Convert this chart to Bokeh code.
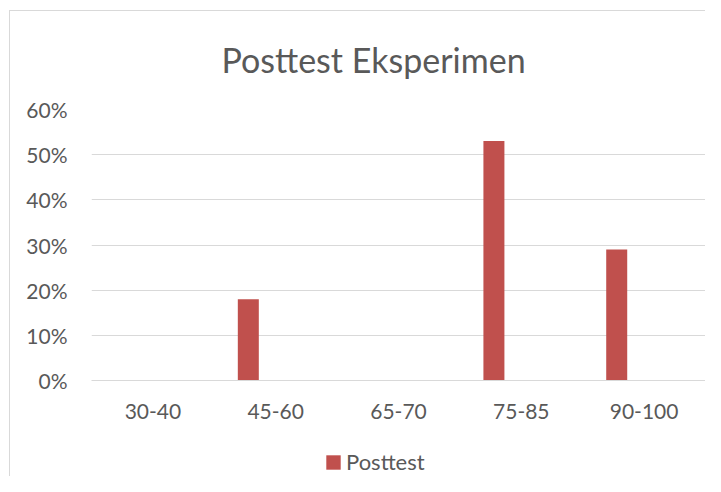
from bokeh.plotting import figure
from bokeh.layouts import column
from bokeh.models import (FactorRange, Range1d, FixedTicker, NumeralTickFormatter,
                          Legend, LegendItem, ColumnDataSource)
from bokeh.transform import dodge
from bokeh.embed import file_html
from bokeh.resources import INLINE

categories = ["30-40", "45-60", "65-70", "75-85", "90-100"]
posttest = [0.0, 0.18, 0.0, 0.53, 0.29]
y_ticks = [0.0, 0.1, 0.2, 0.3, 0.4, 0.5, 0.6]
title_text = "Posttest Eksperimen"
series_name = "Posttest"

FONT = "Lato"
TXT = "#595959"
GRID = "#d9d9d9"
BAR = "#c0504d"

src = ColumnDataSource(dict(cat=categories, val=posttest))

p = figure(width=705, height=445, x_range=FactorRange(*categories),
           y_range=Range1d(0, 0.6), output_backend="svg", toolbar_location=None,
           min_border_left=91, min_border_right=0, min_border_top=109,
           min_border_bottom=65)
p.border_fill_color = None
p.background_fill_color = "white"
p.outline_line_color = None

r = p.vbar(x=dodge("cat", -0.223, range=p.x_range), top="val", width=0.171,
           source=src, fill_color=BAR, line_color=None)

p.title.text = title_text
p.title.text_font = FONT
p.title.text_font_size = "34px"
p.title.text_font_style = "normal"
p.title.text_color = TXT
p.title.align = "left"
p.title.offset = 130
p.title.standoff = 60

p.yaxis.ticker = FixedTicker(ticks=y_ticks)
p.yaxis.formatter = NumeralTickFormatter(format="0%")
p.yaxis.axis_line_color = None
p.yaxis.major_tick_line_color = None
p.yaxis.minor_tick_line_color = None
p.yaxis.major_tick_out = 0
p.yaxis.major_label_standoff = 24
p.yaxis.major_label_text_font = FONT
p.yaxis.major_label_text_font_size = "21px"
p.yaxis.major_label_text_color = TXT

p.xaxis.axis_line_color = GRID
p.xaxis.axis_line_width = 1
p.xaxis.major_tick_line_color = None
p.xaxis.major_tick_out = 0
p.xaxis.major_label_standoff = 23
p.xaxis.major_label_text_font = FONT
p.xaxis.major_label_text_font_size = "21px"
p.xaxis.major_label_text_color = TXT

p.xgrid.grid_line_color = None
p.ygrid.grid_line_color = GRID
p.ygrid.grid_line_width = 1
p.ygrid.ticker = FixedTicker(ticks=y_ticks)

# legend strip under the chart (key renderer hidden, only its legend swatch shows)
lg = figure(width=705, height=31, x_range=p.x_range, y_range=Range1d(0, 1),
            output_backend="svg", toolbar_location=None, x_axis_type=None,
            y_axis_type=None, min_border=0)
lg.grid.visible = False
lg.outline_line_color = None
lg.border_fill_color = None
lg.background_fill_color = None
key = lg.vbar(x=dodge("cat", -0.223, range=p.x_range), top="val", width=0.171,
              source=src, fill_color=BAR, line_color=None, visible=False)

legend = Legend(items=[LegendItem(label=series_name, renderers=[key])],
                location=(233, 1), orientation="horizontal",
                glyph_width=18, glyph_height=18, label_height=18,
                label_standoff=4, padding=0, margin=0, spacing=0,
                border_line_color=None, background_fill_alpha=0,
                inactive_fill_alpha=0,
                label_text_font=FONT, label_text_font_size="22px",
                label_text_color=TXT)
lg.add_layout(legend, "center")

layout = column(p, lg, spacing=0)
layout.styles = {
    "background": ("linear-gradient(#d9d9d9,#d9d9d9) 9px 10px / 100% 1px no-repeat, "
                   "linear-gradient(#d9d9d9,#d9d9d9) 9px 10px / 1px 100% no-repeat, white"),
}

open("out.html", "w").write(file_html(layout, INLINE))
